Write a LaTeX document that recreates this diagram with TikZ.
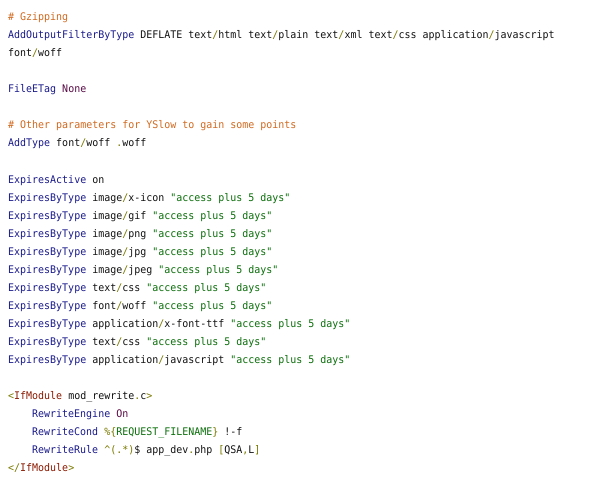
\documentclass[tikz,border=0pt]{standalone}
\usepackage{fontspec}
\newfontfamily\codefont{DejaVu Sans Mono}[FakeStretch=0.95]
\definecolor{kwc}{HTML}{1A1A8C}
\definecolor{cmc}{HTML}{D2691E}
\definecolor{stc}{HTML}{0A6E0A}
\definecolor{vlc}{HTML}{5A0A46}
\definecolor{tgc}{HTML}{8B1A00}
\definecolor{olc}{HTML}{7A7A00}
\definecolor{txc}{HTML}{111111}
\newcommand\kwd[1]{\textcolor{kwc}{#1}}
\newcommand\cmt[1]{\textcolor{cmc}{#1}}
\newcommand\strg[1]{\textcolor{stc}{#1}}
\newcommand\valu[1]{\textcolor{vlc}{#1}}
\newcommand\tagn[1]{\textcolor{tgc}{#1}}
\newcommand\olv[1]{\textcolor{olc}{#1}}
\newcommand\slsh{\olv{/}}
\begin{document}
\begin{tikzpicture}[x=1pt,y=-1pt,
  codeline/.style={anchor=base west,inner sep=0pt,text=txc,
    font=\codefont\fontsize{10.5}{18}\selectfont}]
\useasboundingbox[fill=white] (0,0) rectangle (600,484);
\node[codeline] (l1)  at (8,21)  {\cmt{\# Gzipping}};
\node[codeline] (l2)  at (8,39)  {\kwd{AddOutputFilterByType} DEFLATE text\slsh html text\slsh plain text\slsh xml text\slsh css application\slsh javascript};
\node[codeline] (l3)  at (8,57)  {font\slsh woff};
\node[codeline] (l5)  at (8,93)  {\kwd{FileETag} \valu{None}};
\node[codeline] (l7)  at (8,129) {\cmt{\# Other parameters for YSlow to gain some points}};
\node[codeline] (l8)  at (8,147) {\kwd{AddType} font\slsh woff \olv{.}woff};
\node[codeline] (l10) at (8,183) {\kwd{ExpiresActive} on};
\node[codeline] (l11) at (8,201) {\kwd{ExpiresByType} image\slsh x-icon \strg{"access plus 5 days"}};
\node[codeline] (l12) at (8,219) {\kwd{ExpiresByType} image\slsh gif \strg{"access plus 5 days"}};
\node[codeline] (l13) at (8,237) {\kwd{ExpiresByType} image\slsh png \strg{"access plus 5 days"}};
\node[codeline] (l14) at (8,255) {\kwd{ExpiresByType} image\slsh jpg \strg{"access plus 5 days"}};
\node[codeline] (l15) at (8,273) {\kwd{ExpiresByType} image\slsh jpeg \strg{"access plus 5 days"}};
\node[codeline] (l16) at (8,291) {\kwd{ExpiresByType} text\slsh css \strg{"access plus 5 days"}};
\node[codeline] (l17) at (8,309) {\kwd{ExpiresByType} font\slsh woff \strg{"access plus 5 days"}};
\node[codeline] (l18) at (8,327) {\kwd{ExpiresByType} application\slsh x-font-ttf \strg{"access plus 5 days"}};
\node[codeline] (l19) at (8,345) {\kwd{ExpiresByType} text\slsh css \strg{"access plus 5 days"}};
\node[codeline] (l20) at (8,363) {\kwd{ExpiresByType} application\slsh javascript \strg{"access plus 5 days"}};
\node[codeline] (l22) at (8,399) {\olv{<}\tagn{IfModule} mod\_rewrite\olv{.}c\olv{>}};
\node[codeline] (l23) at (32,417) {\kwd{RewriteEngine} \valu{On}};
\node[codeline] (l24) at (32,435) {\kwd{RewriteCond} \olv{\%\{}\strg{REQUEST\_FILENAME}\olv{\}} !-f};
\node[codeline] (l25) at (32,453) {\kwd{RewriteRule} \olv{\textasciicircum(.*)}\$ app\_dev\olv{.}php \olv{[}QSA\olv{,}L\olv{]}};
\node[codeline] (l26) at (8,471) {\olv{</}\tagn{IfModule}\olv{>}};
\end{tikzpicture}
\end{document}
